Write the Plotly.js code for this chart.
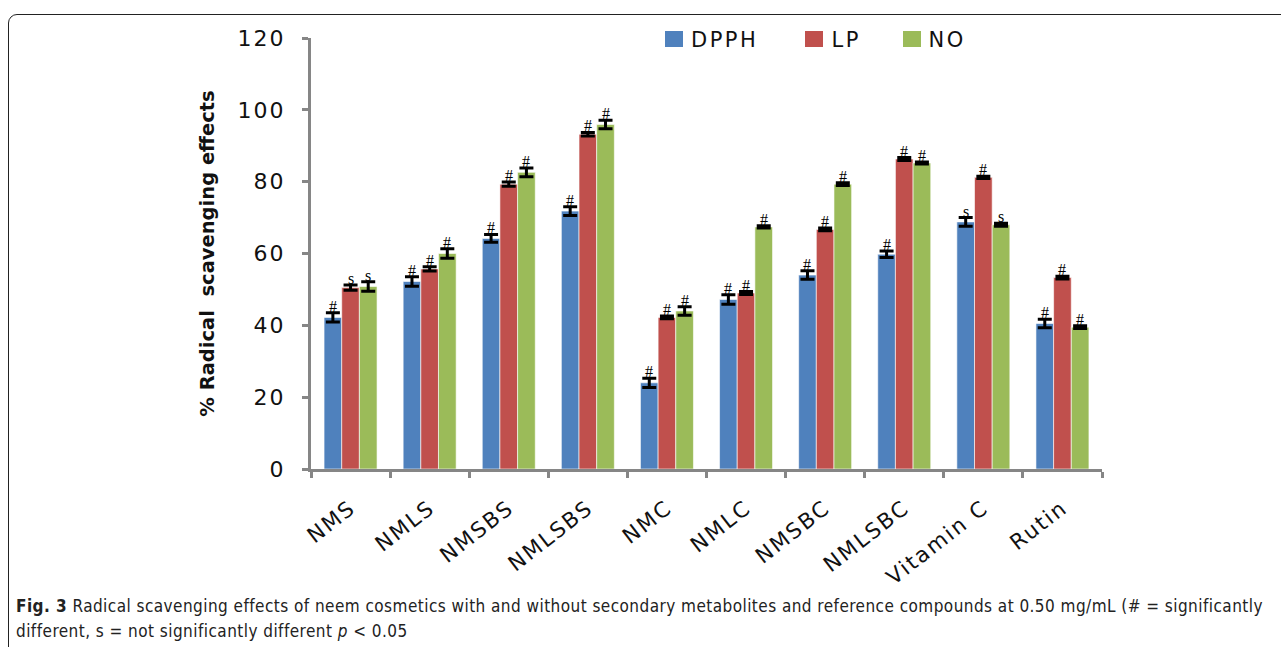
<!DOCTYPE html>
<html>
<head>
<meta charset="utf-8">
<script src="https://cdn.plot.ly/plotly-3.0.1.min.js"></script>
<style>
  html, body { margin: 0; padding: 0; background: #fff; }
  #frame { position: absolute; left: 8px; top: 14px; width: 1300px; height: 700px;
           border: 1.5px solid #222; border-radius: 9px; box-sizing: border-box; }
  #chart { position: absolute; left: 0; top: 0; width: 1281px; height: 647px; }
  #chart .xtick text { letter-spacing: 2px; }
  #chart .ytick text { letter-spacing: 2px; }
  #chart .annotation[data-index="30"] text,
  #chart .annotation[data-index="31"] text,
  #chart .annotation[data-index="32"] text { letter-spacing: 2.5px; }
  #chart .annotation[data-index="33"] text,
  #chart .annotation[data-index="34"] text { letter-spacing: 0.45px; }
</style>
</head>
<body>
<div id="frame"></div>
<div id="chart"></div>
<script>
const categories = ["NMS", "NMLS", "NMSBS", "NMLSBS", "NMC", "NMLC", "NMSBC", "NMLSBC", "Vitamin C", "Rutin"];

const dpph    = [42.2, 52.2, 64.2, 71.8, 24.0, 47.2, 54.0, 59.8, 68.8, 40.5];
const dpphErr = [1.3, 1.3, 1.1, 1.2, 1.3, 1.3, 1.2, 0.9, 1.2, 1.2];
const dpphSig = ["#", "#", "#", "#", "#", "#", "#", "#", "s", "#"];

const lp      = [50.5, 55.7, 79.3, 93.2, 42.2, 49.0, 66.7, 86.3, 81.2, 53.3];
const lpErr   = [0.7, 0.6, 0.6, 0.5, 0.4, 0.4, 0.4, 0.4, 0.3, 0.4];
const lpSig   = ["s", "#", "#", "#", "#", "#", "#", "#", "#", "#"];

const no      = [50.8, 60.0, 82.6, 95.9, 44.0, 67.4, 79.3, 85.2, 68.0, 39.5];
const noErr   = [1.3, 1.3, 1.2, 1.2, 1.2, 0.3, 0.4, 0.3, 0.4, 0.4];
const noSig   = ["s", "#", "#", "#", "#", "#", "#", "#", "s", "#"];

const seriesNames = ["DPPH", "LP", "NO"];
const colors = ["#4F81BD", "#C0504D", "#9BBB59"];

const vals = [dpph, lp, no];
const errs = [dpphErr, lpErr, noErr];
const sigs = [dpphSig, lpSig, noSig];

const traces = vals.map((v, i) => ({
  type: "bar",
  name: seriesNames[i],
  x: categories,
  y: v,
  marker: { color: colors[i], line: { color: "rgba(255,255,255,0.6)", width: 1 } },
  error_y: { type: "data", array: errs[i], visible: true, color: "#000", thickness: 3, width: 7 }
}));

// layout geometry
const W = 1281, H = 647;
const L = 311, R = 179, T = 38, B = 178;
const plotW = W - L - R;
const plotH = H - T - B;
const catW = plotW / categories.length;
const bargap = 0.33;
const barW = catW * (1 - bargap) / 3;
const px = xp => (xp - L) / plotW;         // page x -> paper x
const py = yp => (H - B - yp) / plotH;     // page y -> paper y

const annotations = [];
vals.forEach((v, i) => {
  v.forEach((val, j) => {
    annotations.push({
      x: categories[j], y: val + errs[i][j], xref: "x", yref: "y",
      text: sigs[i][j], showarrow: false, yanchor: "bottom",
      xshift: (i - 1) * barW, yshift: -4,
      font: { family: "Liberation Serif, serif", size: 16, color: "#000" }
    });
  });
});

// legend (drawn manually to match reference placement)
const legendItems = [
  { sq: 665, tx: 694 },
  { sq: 805, tx: 832 },
  { sq: 903, tx: 929 }
];
const shapes = [];
legendItems.forEach((it, i) => {
  shapes.push({
    type: "rect", xref: "paper", yref: "paper",
    x0: px(it.sq), x1: px(it.sq + 18), y0: py(47), y1: py(31),
    fillcolor: colors[i], line: { width: 0 }
  });
  annotations.push({
    xref: "paper", yref: "paper", x: px(it.tx), y: py(39.5),
    xanchor: "left", yanchor: "middle", showarrow: false,
    text: seriesNames[i],
    font: { family: "DejaVu Sans, sans-serif", size: 21, color: "#111" }
  });
});

const capFont = { family: "DejaVu Sans Condensed, Liberation Sans Narrow, Liberation Sans, sans-serif", size: 17, color: "#222" };
annotations.push({
  xref: "paper", yref: "paper", x: px(14), y: py(606),
  xanchor: "left", yanchor: "middle", showarrow: false, align: "left",
  text: "<b>Fig. 3</b> Radical scavenging effects of neem cosmetics with and without secondary metabolites and reference compounds at 0.50 mg/mL (# = significantly",
  font: capFont
});
annotations.push({
  xref: "paper", yref: "paper", x: px(14), y: py(631),
  xanchor: "left", yanchor: "middle", showarrow: false, align: "left",
  text: "different, s = not significantly different <i>p</i> &lt; 0.05",
  font: capFont
});

const layout = {
  width: W, height: H,
  margin: { l: L, r: R, t: T, b: B },
  paper_bgcolor: "rgba(0,0,0,0)",
  plot_bgcolor: "rgba(0,0,0,0)",
  barmode: "group",
  bargap: bargap,
  bargroupgap: 0,
  font: { family: "DejaVu Sans, sans-serif", color: "#111" },
  showlegend: false,
  xaxis: {
    type: "category",
    showline: true, linecolor: "#868686", linewidth: 3,
    ticks: "outside", tickson: "boundaries", ticklen: 6, tickwidth: 3, tickcolor: "#868686",
    tickangle: -38, tickfont: { family: "DejaVu Sans, sans-serif", size: 21.5, color: "#111" },
    ticklabelstandoff: 15,
    showgrid: false, zeroline: false,
    range: [-0.5, categories.length - 0.5]
  },
  yaxis: {
    range: [0, 120], dtick: 20,
    showline: true, linecolor: "#868686", linewidth: 3,
    ticks: "outside", ticklen: 6, tickwidth: 3, tickcolor: "#868686",
    tickfont: { family: "DejaVu Sans, sans-serif", size: 22, color: "#111" },
    ticklabelstandoff: 12,
    showgrid: false, zeroline: false,
    title: { text: "<b>% Radical  scavenging effects</b>", font: { family: "DejaVu Sans, sans-serif", size: 19.5, color: "#111" }, standoff: 24 }
  },
  shapes: shapes,
  annotations: annotations
};

Plotly.newPlot("chart", traces, layout, { displayModeBar: false, staticPlot: true });
</script>
</body>
</html>
